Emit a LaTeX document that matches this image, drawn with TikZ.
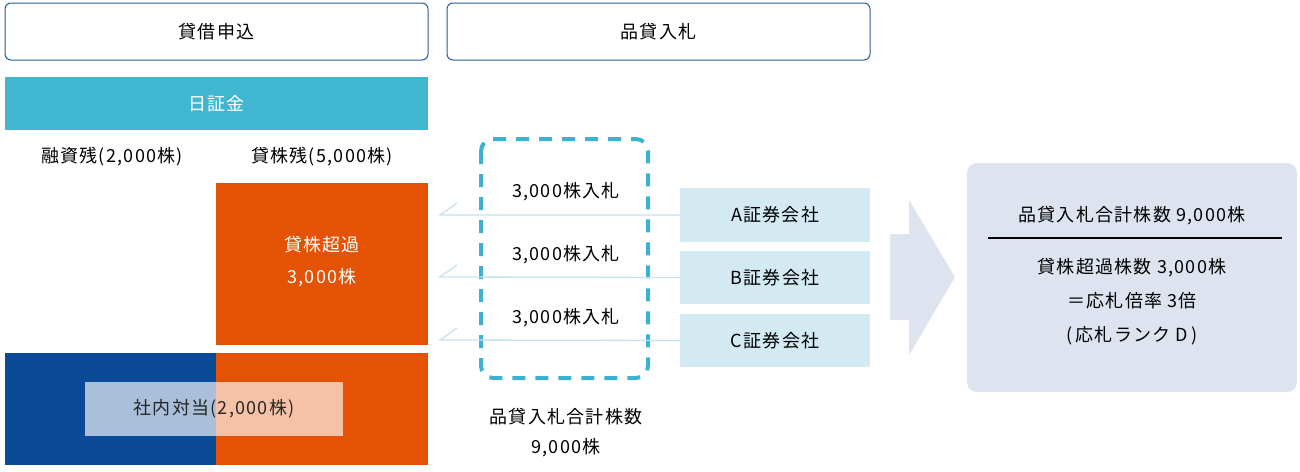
\documentclass[tikz,border=0pt]{standalone}
\usepackage{fontspec}
\setmainfont[LetterSpace=7]{Noto Sans CJK JP}
\begin{document}
\begin{tikzpicture}[x=1pt,y=-1pt,
  hdr/.style={draw=hblue,line width=1pt,rounded corners=6pt,fill=white,font=\fontsize{18}{20}\selectfont},
  comp/.style={fill=lblue,font=\fontsize{18}{20}\selectfont},
  txt/.style={font=\fontsize{18}{22}\selectfont,align=center,inner sep=0pt},
  bid/.style={draw=lblue2,line width=1.3pt}]
\definecolor{hblue}{HTML}{2A5A9A}
\definecolor{cyanbar}{HTML}{41B6D1}
\definecolor{orng}{HTML}{E35205}
\definecolor{dblue}{HTML}{0B4A96}
\definecolor{lblue}{HTML}{D3EAF2}
\definecolor{lblue2}{HTML}{C6E2EC}
\definecolor{gbox}{HTML}{DDE4EF}
\definecolor{dashcol}{HTML}{3BB2CF}
\useasboundingbox (0,0) rectangle (1300,471);
\node[hdr,minimum width=423,minimum height=57] (h1) at (216.5,31.5) {貸借申込};
\node[hdr,minimum width=423,minimum height=57] (h2) at (658.5,31.5) {品貸入札};
\fill[cyanbar] (5,77) rectangle (428,130);
\node[txt,text=white] (jsf) at (216.5,103.5) {日証金};
\node[txt] (l1) at (112,157) {融資残(2,000株)};
\node[txt] (l2) at (322,157) {貸株残(5,000株)};
\fill[orng] (216,183) rectangle (428,345);
\node[txt,text=white,font=\fontsize{18}{32}\selectfont] (ex) at (322,262) {貸株超過\\3,000株};
\fill[dblue] (5,353) rectangle (216,465);
\fill[orng] (216,353) rectangle (428,465);
\fill[white,opacity=0.65] (85,382) rectangle (343,436);
\node[txt,text=black!85] (nt) at (214,409) {社内対当(2,000株)};
\draw[dashcol,line width=4pt,dash pattern=on 13pt off 10pt,rounded corners=12pt] (481,139) rectangle (648,378);
\node[comp,minimum width=190,minimum height=54] (A) at (775,215) {A証券会社};
\node[comp,minimum width=190,minimum height=53] (B) at (775,277.5) {B証券会社};
\node[comp,minimum width=190,minimum height=53] (C) at (775,340.5) {C証券会社};
\coordinate (ta) at (440,215);
\coordinate (tb) at (440,277);
\coordinate (tc) at (440,340);
\foreach \n/\t in {A/ta,B/tb,C/tc}{
  \draw[bid] (\n.west) -- (\t) -- ++(17,-12);
}
\node[txt] (b1) at (566,192) {3,000株入札};
\node[txt] (b2) at (566,255) {3,000株入札};
\node[txt] (b3) at (566,318) {3,000株入札};
\node[txt,font=\fontsize{18}{30}\selectfont] (tot) at (566,433) {品貸入札合計株数\\9,000株};
\fill[gbox] (890,234) -- (909,234) -- (909,200) -- (955,277) -- (909,355) -- (909,320) -- (890,320) -- cycle;
\fill[gbox,rounded corners=10pt] (967,163) rectangle (1297,392);
\node[txt] (r1) at (1132,216) {品貸入札合計株数\ 9,000株};
\draw[black,line width=1.2pt] (988,238) -- (1282,238);
\node[txt,font=\fontsize{18}{34}\selectfont] (r2) at (1132,302) {貸株超過株数\ 3,000株\\＝応札倍率\ 3倍\\(\,応札ランク D\,)};
\end{tikzpicture}
\end{document}
